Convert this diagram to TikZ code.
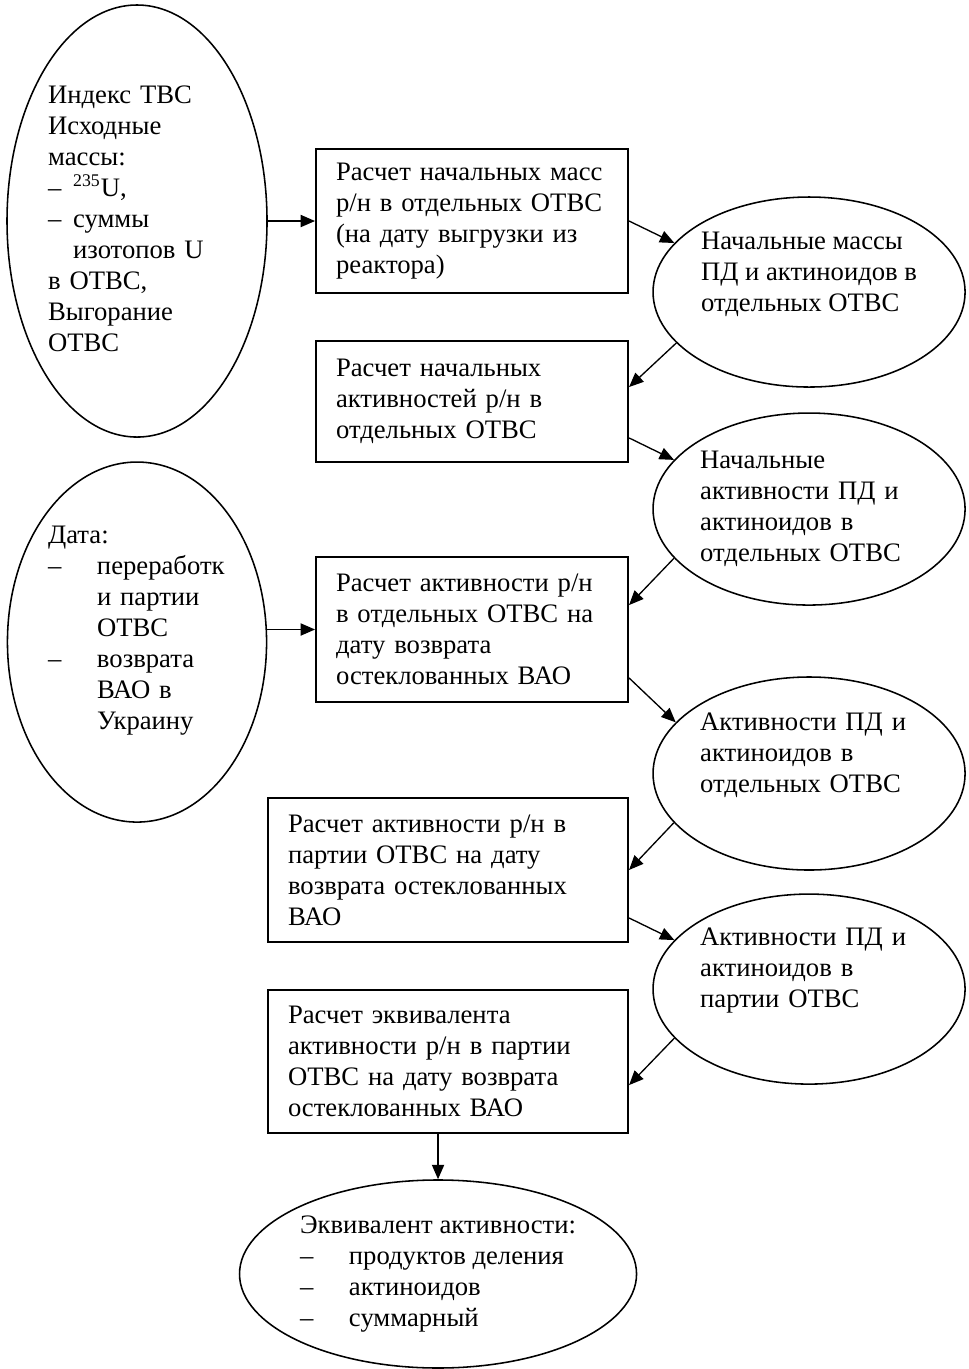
\documentclass[tikz,border=0pt]{standalone}
\usepackage{fontspec}
\setmainfont{Liberation Serif}
\usepackage{tikz}
\usetikzlibrary{arrows.meta,shapes,positioning}
\tikzset{block/.style={draw, rectangle, line width=0.9pt, inner xsep=9pt, inner ysep=2pt,
		text width=122.4pt, align=left, minimum height=64.8pt},
	wideblock/.style={block, text width=144pt},
	ellip/.style={draw, ellipse, line width=0.7pt, inner xsep=0pt, inner ysep=-12pt, align=left,
		minimum width=140.4pt},
	arrow/.style={draw, line width=0.6pt, -{Triangle[length=6.5pt,width=5.5pt]}}}
\newcommand{\dashto}[1]{\makebox[#1][l]{–}}
\newcommand{\padbelow}[1]{\rule[-#1]{0pt}{0pt}}

\begin{document}
\begin{tikzpicture}[font=\fontsize{12}{13.95}\selectfont]
		\useasboundingbox (0pt,0pt) rectangle (436pt,-616pt);
		
		\node [ellip, minimum width=117pt, minimum height=194.4pt, text width=80pt] (tvsdata) at (61.65pt,-99.45pt) {Индекс ТВС\\ Исходные\\ массы:\\ \dashto{11.25pt}\textsuperscript{235}U,\\ \dashto{11.25pt}суммы\\ \hspace*{11.25pt}изотопов U\\ в ОТВС,\\ Выгорание\\ ОТВС\padbelow{2pt}};
		\node [block, right of=tvsdata, node distance=150.75pt] (calcmass) {Расчет начальных масс\\ р/н в отдельных ОТВС\\ (на дату выгрузки из\\ реактора)};
		\node [ellip, right of=calcmass, node distance=151.65pt, yshift=-31.95pt, minimum height=85.5pt] (initmass) {Начальные массы\\ ПД и актиноидов в\\ отдельных ОТВС\padbelow{17.8pt}};
		\node [block, below of=calcmass, node distance=81.2pt, minimum height=54.45pt] (calcact) {Расчет начальных\\ активностей р/н в\\ отдельных ОТВС};
		\node [ellip, below of=initmass, node distance=97.65pt, minimum height=86.4pt, text width=98pt] (initact) {Начальные\\ активности ПД и\\ актиноидов в\\ отдельных ОТВС};
		
		\node [ellip, below of=tvsdata, node distance=189.45pt, minimum width=116.6pt, minimum height=162pt, text width=80pt] (datedata) {Дата:\\ \dashto{22pt}переработк\\ \hspace*{22pt}и партии\\ \hspace*{22pt}ОТВС\\ \dashto{22pt}возврата\\ \hspace*{22pt}ВАО в\\ \hspace*{22pt}Украину\padbelow{13.3pt}};
		\node [block, below of=calcact, node distance=102.6pt, minimum height=65.25pt] (calcret) {Расчет активности р/н\\ в отдельных ОТВС на\\ дату возврата\\ остеклованных ВАО};
		\node [ellip, below of=initact, node distance=119pt, minimum height=86.85pt, text width=98pt] (retact) {Активности ПД и\\ актиноидов в\\ отдельных ОТВС\padbelow{19pt}};
		
		\node [wideblock, below of=calcret, node distance=108.2pt, xshift=-10.8pt] (calcbatch) {Расчет активности р/н в\\ партии ОТВС на дату\\ возврата остеклованных\\ ВАО};
		\node [ellip, below of=retact, node distance=97pt, minimum height=85.5pt, text width=98pt] (batchact) {Активности ПД и\\ актиноидов в\\ партии ОТВС\padbelow{19pt}};
		\node [wideblock, below of=calcbatch, node distance=86.2pt, minimum height=64.35pt] (calcequiv) {Расчет эквивалента\\ активности р/н в партии\\ ОТВС на дату возврата\\ остеклованных ВАО};
		\node [ellip, below of=calcequiv, node distance=95.6pt, xshift=-4.5pt, minimum width=178.65pt, minimum height=84.6pt] (equiv) {Эквивалент активности:\\ \dashto{22pt}продуктов деления\\ \dashto{22pt}актиноидов\\ \dashto{22pt}суммарный};
		
		\draw [arrow] (tvsdata.east) -- (calcmass.west);
		\draw [arrow] (calcmass.east) -- (initmass.160);
		\draw [arrow] (initmass.201) -- ([yshift=6.5pt]calcact.east);
		\draw [arrow] ([yshift=-16.4pt]calcact.east) -- (initact.160);
		\draw [arrow] (initact.200) -- ([yshift=11pt]calcret.east);
		\draw [arrow] (datedata.east |- calcret.west) -- (calcret.west);
		\draw [arrow] ([yshift=-21.8pt]calcret.east) -- (retact.159);
		\draw [arrow] (retact.200) -- (calcbatch.east);
		\draw [arrow] ([yshift=-21.6pt]calcbatch.east) -- (batchact.160);
		\draw [arrow] (batchact.200) -- ([yshift=-10.6pt]calcequiv.east);
		\draw [arrow] (calcequiv.south -| equiv.north) -- (equiv.north);
	\end{tikzpicture}
\end{document}
